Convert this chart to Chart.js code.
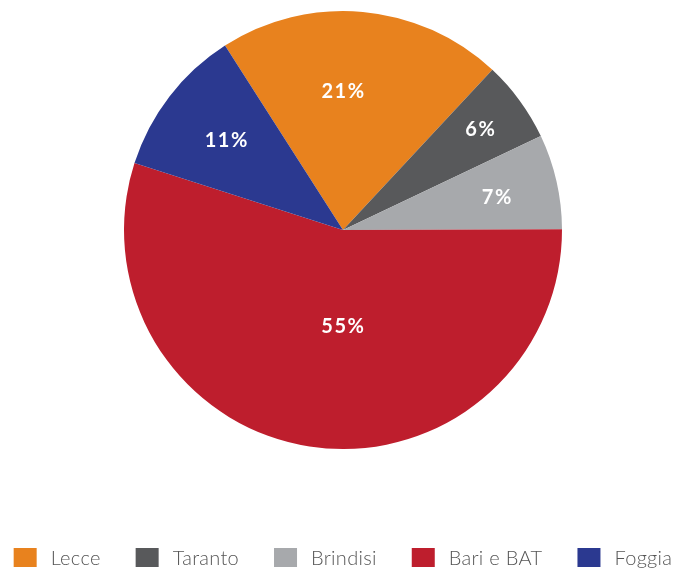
<!DOCTYPE html>
<html>
<head>
<meta charset="utf-8">
<script src="https://cdn.jsdelivr.net/npm/chart.js@4/dist/chart.umd.min.js"></script>
<style>
  html, body { margin: 0; padding: 0; background: #ffffff; }
  #wrap { width: 689px; height: 570px; position: relative; }
</style>
</head>
<body>
<div id="wrap"><canvas id="c" width="689" height="570"></canvas></div>
<script>
// ---- data ----
const categories = ['Lecce', 'Taranto', 'Brindisi', 'Bari e BAT', 'Foggia'];
const shares = [21, 6, 7, 55, 11];
const sliceColors = ['#E8821E', '#58595B', '#A7A9AC', '#BE1E2D', '#2B3990'];

// label placement (fraction of radius, angular shift in degrees)
const labelRadiusFrac = [0.63, 0.78, 0.72, 0.44, 0.67];
const labelAngleShift = [-5, 0, 1, -9, 0];

const sliceLabels = {
  id: 'sliceLabels',
  afterDatasetsDraw(chart) {
    const ctx = chart.ctx;
    const meta = chart.getDatasetMeta(0);
    const data = chart.data.datasets[0].data;
    ctx.save();
    ctx.fillStyle = '#ffffff';
    ctx.font = 'bold 20px Lato, "Open Sans", sans-serif';
    ctx.textAlign = 'center';
    ctx.textBaseline = 'middle';
    if ('letterSpacing' in ctx) ctx.letterSpacing = '1.5px';
    meta.data.forEach((arc, i) => {
      const p = arc.getProps(['x', 'y', 'startAngle', 'endAngle', 'outerRadius'], true);
      const mid = (p.startAngle + p.endAngle) / 2 + labelAngleShift[i] * Math.PI / 180;
      const r = p.outerRadius * labelRadiusFrac[i];
      ctx.fillText(data[i] + '%', p.x + Math.cos(mid) * r, p.y + Math.sin(mid) * r);
    });
    ctx.restore();
  }
};

// single-row legend drawn on the chart canvas
const rowLegend = {
  id: 'rowLegend',
  afterDraw(chart) {
    const ctx = chart.ctx;
    const labels = chart.data.labels;
    const colors = chart.data.datasets[0].backgroundColor;
    const boxW = 23, boxH = 19, textGap = 14, itemGap = 35;
    const top = chart.height - 22;
    ctx.save();
    ctx.font = '300 20px Lato, "Open Sans", sans-serif';
    if ('letterSpacing' in ctx) ctx.letterSpacing = '0.3px';
    const widths = labels.map(t => ctx.measureText(t).width);
    let total = 0;
    widths.forEach((w, i) => { total += boxW + textGap + w + (i < widths.length - 1 ? itemGap : 0); });
    let x = (chart.chartArea.left + chart.chartArea.right) / 2 - total / 2;
    ctx.textBaseline = 'middle';
    ctx.textAlign = 'left';
    labels.forEach((t, i) => {
      ctx.fillStyle = colors[i];
      ctx.fillRect(x, top, boxW, boxH);
      ctx.fillStyle = '#555555';
      ctx.fillText(t, x + boxW + textGap, top + boxH / 2 + 1);
      x += boxW + textGap + widths[i] + itemGap;
    });
    ctx.restore();
  }
};

new Chart(document.getElementById('c'), {
  type: 'pie',
  data: {
    labels: categories,
    datasets: [{
      data: shares,
      backgroundColor: sliceColors,
      borderWidth: 0,
      hoverOffset: 0
    }]
  },
  options: {
    responsive: false,
    animation: false,
    rotation: -32.6,
    layout: { padding: { top: 11, bottom: 121, left: 0, right: 3 } },
    plugins: {
      tooltip: { enabled: false },
      legend: { display: false }
    }
  },
  plugins: [sliceLabels, rowLegend]
});
</script>
</body>
</html>
